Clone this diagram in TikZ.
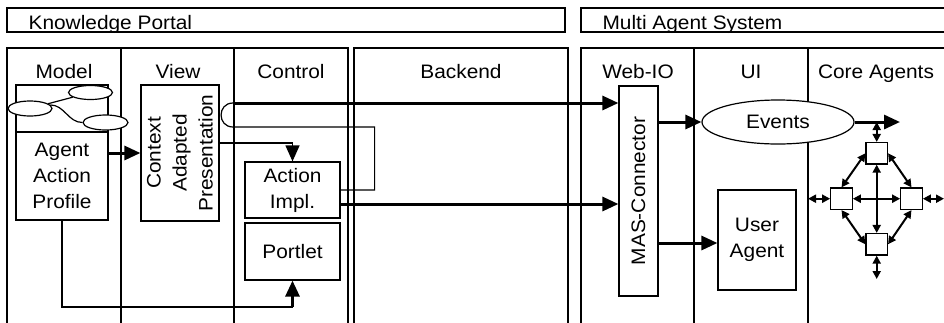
\documentclass[tikz,border=0pt]{standalone}
\usepackage{fontspec}
\setmainfont[FakeStretch=1.07]{Liberation Sans}
\usetikzlibrary{arrows.meta,shapes.geometric}

\begin{document}
\begin{tikzpicture}[x=1pt, y=-1pt, line width=1.2pt,
  every node/.style = {font=\fontsize{19.5}{26}\selectfont, inner sep=0pt},
  box/.style = {draw, fill=white, align=center},
  ell/.style = {draw, ellipse, fill=white},
  sq/.style = {draw, fill=white, minimum size=21.5pt},
  fat/.style = {line width=3pt},
  big/.style = {-{Triangle[length=16pt,width=14pt]}},
  dbl/.style = {line width=2pt, {Triangle[length=8pt,width=8pt]}-{Triangle[length=8pt,width=8pt]}}]
  \useasboundingbox (0,0) rectangle (944,322);
  \draw (7,8) rectangle (565,32) (581,8) rectangle (960,32);
  \node[anchor=base west] (kptitle) at (28,29) {Knowledge Portal};
  \node[anchor=base west] (mastitle) at (602,29) {Multi Agent System};
  \draw (7,330) |- (348,48) -- (348,330) (121,48) -- (121,330) (234,48) -- (234,330);
  \draw (354,330) |- (568,48) -- (568,330);
  \draw (581,330) |- (960,48) (694,48) -- (694,330) (808,48) -- (808,330);
  \foreach \x/\n/\t in {64/model/Model, 178/view/View, 291/control/Control, 461/backend/Backend,
      638/webio/Web-IO, 751/ui/UI, 876/core/Core Agents}
    \node[anchor=base] (\n title) at (\x,78) {\t};
  \draw (16,85) rectangle (108,132);
  \node[box, line width=2pt, minimum width=92pt, minimum height=88pt] (aap) at (62,176) {Agent\\Action\\Profile};
  \node[ell, minimum width=44pt, minimum height=14pt] (e1) at (90.5,92.5) {};
  \node[ell, minimum width=44pt, minimum height=15pt] (e2) at (30,108.5) {};
  \node[ell, minimum width=45pt, minimum height=15pt] (e3) at (105.5,122.5) {};
  \draw (e2) -- (e1);
  \draw (e2.10) to[out=0,in=180] (e3.west);
  \node[box, minimum width=78pt, minimum height=136pt] (view) at (180,153) {};
  \node[rotate=90, align=center] (viewtxt) at (view) {Context\\Adapted\\Presentation};
  \node[box, minimum width=95pt, minimum height=56pt] (act) at (292.5,190) {Action\\Impl.};
  \node[box, minimum width=95pt, minimum height=57pt] (port) at (292.5,251.5) {Portlet};
  \node[box, minimum width=39pt, minimum height=210pt] (mas) at (638.5,191) {};
  \node[rotate=90] (mastxt) at (mas) {MAS-Connector};
  \node[ell, minimum width=152pt, minimum height=44pt] (ev) at (778,122) {Events};
  \node[box, minimum width=78pt, minimum height=100pt] (ua) at (757,240) {User\\Agent};
  \foreach \n/\x/\y in {t/876.7/153.3, l/841.5/198.7, r/911.5/198.7, b/876.7/244.3}
    \node[sq] (\n) at (\x,\y) {};
  \coordinate (hopin) at (233,127);
  \coordinate (hopout) at (233,103);
  \coordinate (actout) at ([yshift=-14pt]act.east);
  \coordinate (uain) at ([yshift=-3pt]ua.west);
  \coordinate (pc) at (292.5,307);
  \coordinate (evout) at (900,122);
  \coordinate (cl) at (808,198.7);
  \coordinate (cr) at (944,198.7);
  \coordinate (cb) at (876.7,279);
  \draw[fat, big] (aap.east |- view.west) -- (view.west);
  \draw[big] ([yshift=10pt]view.east) -| (act.north);
  \draw (act.east) -- ++(34,0) |- (hopin) to[out=180,in=180,looseness=1.7] (hopout);
  \draw[fat, big] (hopout) -- (hopout -| mas.west);
  \draw[fat, big] (actout) -- (actout -| mas.west);
  \draw (aap.south) |- (pc);
  \draw[fat, big] (pc) -- (port.south);
  \draw[fat, big] (mas.east |- ev.west) -- (ev.west);
  \draw[fat, big] (ev.east) -- (evout);
  \draw[fat, big] (mas.east |- uain) -- (uain);
  \draw[dbl] (t.west) -- (l.north);
  \draw[dbl] (t.east) -- (r.north);
  \draw[dbl] (b.west) -- (l.south);
  \draw[dbl] (b.east) -- (r.south);
  \draw[dbl] (t) -- (b);
  \draw[dbl] (l) -- (r);
  \draw[dbl] (t.north) -- (t.north |- evout);
  \draw[dbl] (l.west) -- (cl);
  \draw[dbl] (r.east) -- (cr);
  \draw[dbl] (b.south) -- (cb);
\end{tikzpicture}
\end{document}
